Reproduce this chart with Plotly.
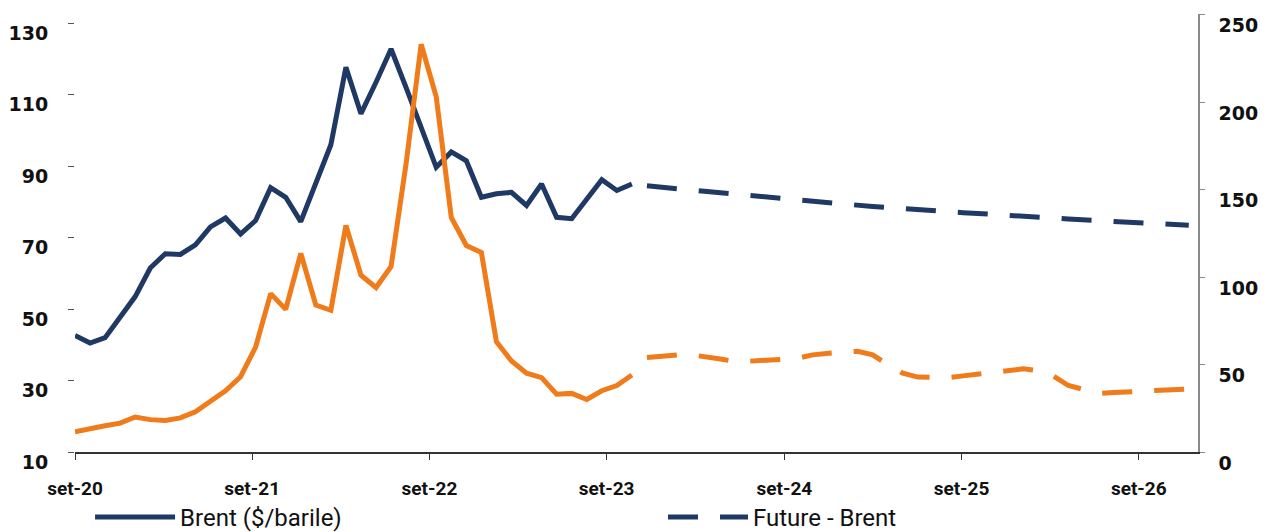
import pandas as pd
import plotly.graph_objects as go

# ---- data ----
hist_dates = pd.date_range("2020-09-01", periods=38, freq="31D")
fut_dates = pd.date_range(hist_dates[-1] + pd.Timedelta(days=31), periods=37, freq="31D")

brent = [42.6, 40.5, 42.0, 48.0, 53.5, 61.5, 65.5, 65.3, 68.0, 73.0,
         75.5, 71.0, 74.8, 84.0, 81.3, 74.5, 85.0, 96.0, 117.7, 104.7,
         113.5, 122.8, 112.0, 101.0, 89.7, 94.0, 91.5, 81.3, 82.3, 82.7,
         79.0, 85.0, 75.7, 75.3, 81.0, 86.2, 83.2, 85.0]

future_brent = [84.5, 84.0, 83.8, 83.3, 82.9, 82.5, 82.1, 81.7, 81.2, 80.8,
                80.4, 80.0, 79.6, 79.3, 79.0, 78.7, 78.4, 78.2, 77.9, 77.6,
                77.3, 77.0, 76.8, 76.5, 76.3, 76.1, 75.8, 75.5, 75.2, 74.9,
                74.7, 74.5, 74.3, 74.1, 73.8, 73.7, 73.5]

gas = [11.6, 13.5, 15.0, 16.5, 20.0, 18.5, 18.0, 19.5, 23.0, 29.0,
       35.0, 43.0, 60.0, 90.5, 81.5, 113.5, 84.0, 81.0, 129.5, 101.0,
       94.0, 106.0, 165.0, 233.0, 203.0, 134.0, 118.0, 114.0, 63.0, 52.0,
       45.0, 42.5, 33.0, 33.5, 30.0, 35.0, 38.0, 44.0]

future_gas = [54.0, 55.0, 55.5, 55.5, 54.5, 53.0, 51.5, 52.0, 52.0, 52.3,
              53.5, 55.5, 56.5, 57.2, 57.5, 55.5, 50.0, 45.0, 42.8, 42.3,
              42.5, 43.5, 44.5, 45.3, 46.5, 47.5, 46.5, 43.5, 38.0, 35.5,
              33.5, 34.0, 34.5, 35.0, 35.2, 35.8, 36.0]

tick_dates = ["2020-09-01", "2021-09-01", "2022-09-01", "2023-09-01",
              "2024-09-01", "2025-09-01", "2026-09-01"]
tick_text = ["set-20", "set-21", "set-22", "set-23", "set-24", "set-25", "set-26"]
left_ticks = [10, 30, 50, 70, 90, 110, 130]
right_ticks = [0, 50, 100, 150, 200, 250]

NAVY = "#1F3864"
ORANGE = "#EF7B1A"
DASH = "30px,22px"

fig = go.Figure()
fig.add_trace(go.Scatter(x=hist_dates, y=brent, mode="lines", name="Brent ($/barile)",
                         legend="legend", line=dict(color=NAVY, width=5)))
fig.add_trace(go.Scatter(x=fut_dates, y=future_brent, mode="lines", name="Future - Brent",
                         legend="legend2", line=dict(color=NAVY, width=5, dash=DASH)))
fig.add_trace(go.Scatter(x=hist_dates, y=gas, mode="lines", yaxis="y2", showlegend=False,
                         line=dict(color=ORANGE, width=5)))
fig.add_trace(go.Scatter(x=fut_dates, y=future_gas, mode="lines", yaxis="y2", showlegend=False,
                         line=dict(color=ORANGE, width=5, dash=DASH)))

legend_font = dict(family="Roboto", size=24, color="#111111")

# the page body has an 8px margin; figure is sized so the plot sits where the reference has it
fig.update_layout(
    width=1258, height=524,
    margin=dict(l=67, r=68, t=6, b=80, autoexpand=False),
    paper_bgcolor="white", plot_bgcolor="white",
    xaxis=dict(type="date", range=["2020-09-01", "2027-01-01"],
               tickvals=tick_dates, ticktext=tick_text,
               showgrid=False, zeroline=False,
               showline=True, linecolor="#333333", linewidth=1.5,
               ticks="outside", ticklen=6, tickcolor="#333333",
               ticklabelstandoff=12,
               tickfont=dict(family="Roboto", size=19, color="#111111", weight="bold")),
    yaxis=dict(range=[10, 132.6], tickvals=left_ticks,
               showgrid=False, zeroline=False, showline=False,
               ticks="outside", ticklen=6, tickcolor="#555555",
               ticklabelstandoff=16, ticklabelshift=10, ticklabeloverflow="allow",
               tickfont=dict(family="DejaVu Sans", size=19, color="#111111", weight="bold")),
    yaxis2=dict(range=[0, 250.3], tickvals=right_ticks, overlaying="y", side="right",
                showgrid=False, zeroline=False,
                showline=True, linecolor="#8a8a8a", linewidth=1.5,
                ticks="outside", ticklen=5, tickcolor="#8a8a8a",
                ticklabelstandoff=10, ticklabelshift=11, ticklabeloverflow="allow",
                tickfont=dict(family="DejaVu Sans", size=19, color="#111111", weight="bold")),
    showlegend=True,
    legend=dict(orientation="h", x=0.0134, xanchor="left", y=-0.098, yanchor="top",
                itemwidth=80, font=legend_font, bgcolor="rgba(0,0,0,0)"),
    legend2=dict(orientation="h", x=0.5236, xanchor="left", y=-0.098, yanchor="top",
                 itemwidth=80, font=legend_font, bgcolor="rgba(0,0,0,0)"),
)

fig.write_html("out.html")
